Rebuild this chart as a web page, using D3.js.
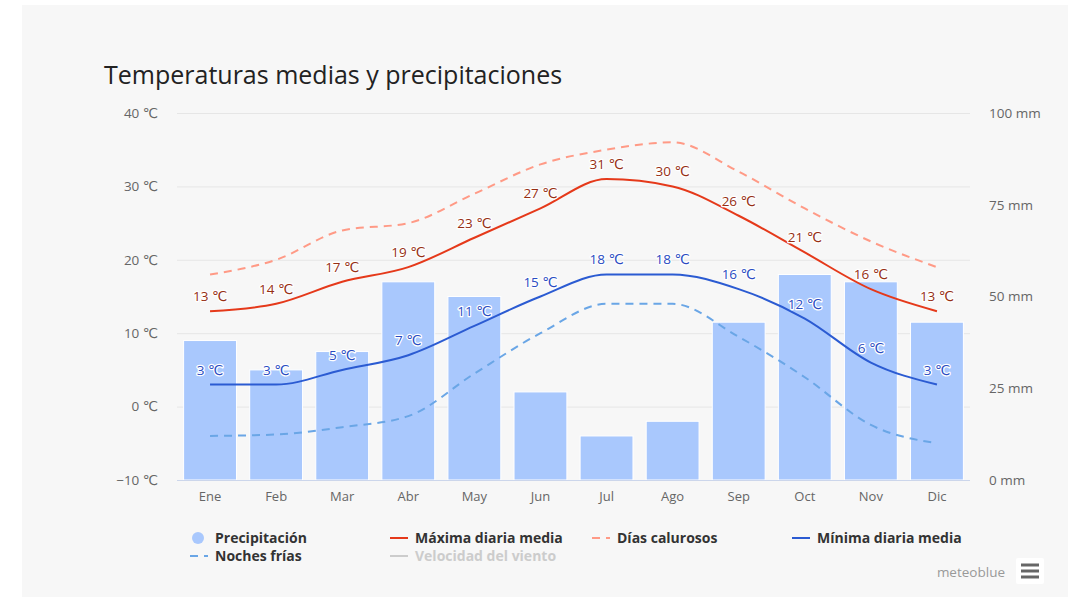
<!DOCTYPE html>
<html>
<head>
<meta charset="utf-8">
<script src="https://cdn.jsdelivr.net/npm/d3@7"></script>
<style>
  html, body { margin: 0; padding: 0; background: #ffffff; }
  svg { display: block; }
  text { font-family: "Open Sans", "DejaVu Sans", sans-serif; }
</style>
</head>
<body>
<svg id="chart" width="1068" height="597"></svg>
<script>
// Monthly climate data
const months = ["Ene", "Feb", "Mar", "Abr", "May", "Jun", "Jul", "Ago", "Sep", "Oct", "Nov", "Dic"];
const precipitation = [38, 30, 35, 54, 50, 24, 12, 16, 43, 56, 54, 43];       // mm
const maxTemp = [13, 14, 17, 19, 23, 27, 31, 30, 26, 21, 16, 13];             // °C
const minTemp = [3, 3, 5, 7, 11, 15, 18, 18, 16, 12, 6, 3];                   // °C
const hotDays = [18, 20, 24, 25, 29, 33, 35, 36, 32, 27, 22.5, 19];           // °C
const coldNights = [-4, -3.8, -2.8, -1.3, 4.5, 10, 14, 14, 9.5, 4, -2.5, -5]; // °C
const tempTicks = [-10, 0, 10, 20, 30, 40];
const precTicks = [0, 25, 50, 75, 100];

const svg = d3.select("#chart");

// Panel background
svg.append("rect").attr("x", 22).attr("y", 5).attr("width", 1046).attr("height", 592).attr("fill", "#f7f7f7");

const plot = { left: 177, right: 970, top: 113, bottom: 480 };

const x = d3.scaleBand().domain(months).range([plot.left, plot.right]).paddingInner(0.2).paddingOuter(0.1);
const xc = m => x(m) + x.bandwidth() / 2;
const yT = d3.scaleLinear().domain([-10, 40]).range([plot.bottom, plot.top]);
const yP = d3.scaleLinear().domain([0, 100]).range([plot.bottom, plot.top]);

// Title
svg.append("text").attr("x", 104).attr("y", 84)
  .attr("font-size", 25).attr("fill", "#222")
  .text("Temperaturas medias y precipitaciones");

// Gridlines
svg.append("g").selectAll("line").data(tempTicks.slice(1)).join("line")
  .attr("x1", plot.left).attr("x2", plot.right)
  .attr("y1", d => yT(d) + 0.5).attr("y2", d => yT(d) + 0.5)
  .attr("stroke", "#e6e6e6").attr("stroke-width", 1);

// Left axis (temperature)
const leftAxis = svg.append("g").attr("transform", `translate(${plot.left - 19},0)`)
  .call(d3.axisLeft(yT).tickValues(tempTicks).tickSize(0).tickPadding(0).tickFormat(d => `${d} ℃`));
leftAxis.select(".domain").remove();
leftAxis.selectAll("text").attr("font-size", 13.5).attr("fill", "#666")
  .attr("font-family", "'Open Sans', 'DejaVu Sans', sans-serif")
  .text(d => d < 0 ? `\u2212${-d} ℃` : `${d} ℃`);

// Right axis (precipitation)
const rightAxis = svg.append("g").attr("transform", `translate(${plot.right + 19},0)`)
  .call(d3.axisRight(yP).tickValues(precTicks).tickSize(0).tickPadding(0).tickFormat(d => `${d} mm`));
rightAxis.select(".domain").remove();
rightAxis.selectAll("text").attr("font-size", 13.5).attr("fill", "#666")
  .attr("font-family", "'Open Sans', 'DejaVu Sans', sans-serif");

// Precipitation bars
svg.append("g").selectAll("rect").data(precipitation).join("rect")
  .attr("x", (d, i) => x(months[i]))
  .attr("width", x.bandwidth())
  .attr("y", d => yP(d))
  .attr("height", d => yP(0) - yP(d))
  .attr("fill", "#a9c8fd")
  .attr("stroke", "#ffffff").attr("stroke-width", 1);

// Bottom axis
const bottomAxis = svg.append("g").attr("transform", `translate(0,${plot.bottom})`)
  .call(d3.axisBottom(x).tickSize(0).tickPadding(12));
bottomAxis.select(".domain").attr("stroke", "#ccd6eb").attr("d", `M${plot.left},0.5H${plot.right}`);
bottomAxis.selectAll("text").attr("font-size", 13).attr("fill", "#666")
  .attr("font-family", "'Open Sans', 'DejaVu Sans', sans-serif");

// Temperature lines
const line = d3.line().x((d, i) => xc(months[i])).y(d => yT(d)).curve(d3.curveMonotoneX);

const series = [
  { values: coldNights, color: "#6aa6e6", dash: "8,6" },
  { values: hotDays, color: "#ff9a86", dash: "8,6" },
  { values: minTemp, color: "#2b5bd2", dash: null },
  { values: maxTemp, color: "#e5391a", dash: null }
];
series.forEach(s => {
  svg.append("path").datum(s.values)
    .attr("d", line)
    .attr("fill", "none")
    .attr("stroke", s.color)
    .attr("stroke-width", 2)
    .attr("stroke-dasharray", s.dash);
});

// Data labels
function labels(values, color) {
  svg.append("g").selectAll("text").data(values).join("text")
    .attr("x", (d, i) => xc(months[i]))
    .attr("y", d => yT(d) - 10)
    .attr("text-anchor", "middle")
    .attr("font-size", 13.5)
    .attr("fill", color)
    .attr("stroke", "#ffffff").attr("stroke-width", 2.5)
    .attr("stroke-linejoin", "round")
    .attr("paint-order", "stroke")
    .text(d => `${d} ℃`);
}
labels(maxTemp, "#962f14");
labels(minTemp, "#2a4cc2");

// Legend
const legend = svg.append("g").attr("font-size", 14).attr("font-weight", "bold");
const legendItems = [
  { label: "Precipitación", x: 190, y: 538, type: "circle", color: "#a9c8fd" },
  { label: "Máxima diaria media", x: 390, y: 538, type: "line", color: "#e5391a" },
  { label: "Días calurosos", x: 592, y: 538, type: "dash", color: "#ff9a86" },
  { label: "Mínima diaria media", x: 792, y: 538, type: "line", color: "#2b5bd2" },
  { label: "Noches frías", x: 190, y: 556, type: "dash", color: "#6aa6e6" },
  { label: "Velocidad del viento", x: 390, y: 556, type: "line", color: "#cccccc", muted: true }
];
legendItems.forEach(it => {
  if (it.type === "circle") {
    legend.append("circle").attr("cx", it.x + 8).attr("cy", it.y).attr("r", 6).attr("fill", it.color);
  } else {
    legend.append("line").attr("x1", it.x).attr("x2", it.x + 18)
      .attr("y1", it.y).attr("y2", it.y)
      .attr("stroke", it.color).attr("stroke-width", 2)
      .attr("stroke-dasharray", it.type === "dash" ? "8,6" : null);
  }
  legend.append("text").attr("x", it.x + 25).attr("y", it.y + 5)
    .attr("fill", it.muted ? "#cccccc" : "#333333")
    .text(it.label);
});

// Credits and menu button
svg.append("text").attr("x", 1005).attr("y", 577).attr("text-anchor", "end")
  .attr("font-size", 13.5).attr("fill", "#999999").text("meteoblue");
svg.append("rect").attr("x", 1016).attr("y", 558).attr("width", 28).attr("height", 26).attr("rx", 2).attr("fill", "#ffffff");
[565, 571, 577].forEach(yy => {
  svg.append("line").attr("x1", 1021).attr("x2", 1039).attr("y1", yy).attr("y2", yy)
    .attr("stroke", "#666666").attr("stroke-width", 3);
});
</script>
</body>
</html>
